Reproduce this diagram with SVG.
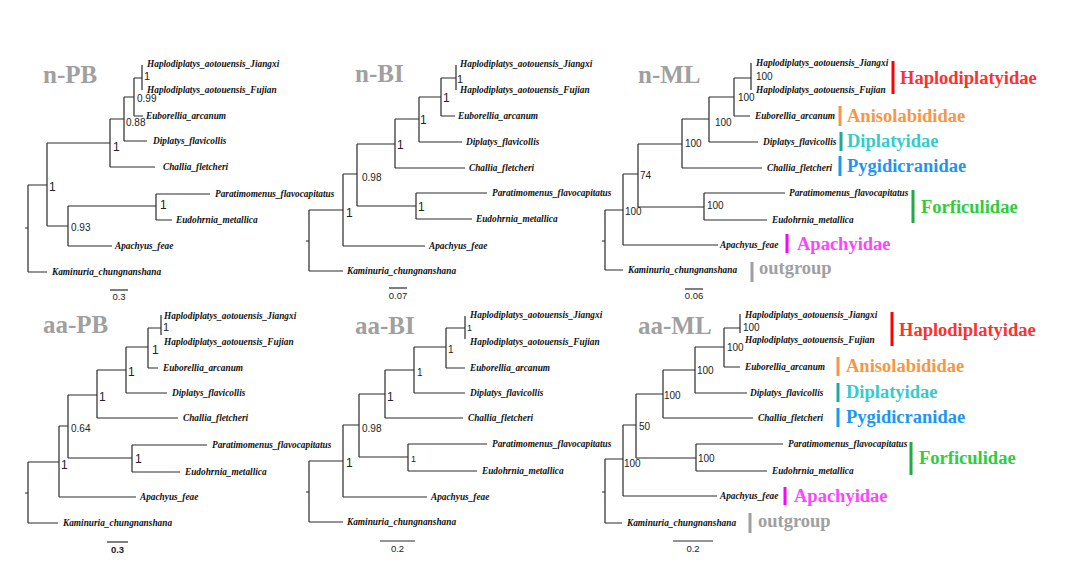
<svg xmlns="http://www.w3.org/2000/svg" width="1080" height="573" viewBox="0 0 1080 573">
<style>
.br{fill:none;stroke:#2a2a2a;stroke-width:1.2}
.tx{font-family:"Liberation Serif",serif;font-weight:bold;font-style:italic;font-size:9.3px;fill:#111}
.nl{font-family:"Liberation Sans",sans-serif;font-size:12px;fill:#222}
.nm{font-family:"Liberation Sans",sans-serif;font-size:11px;fill:#222}
.ns{font-family:"Liberation Sans",sans-serif;font-size:10px;fill:#222}
.nx{font-family:"Liberation Sans",sans-serif;font-size:9px;fill:#222}
.ti{font-family:"Liberation Serif",serif;font-weight:bold;font-size:25px;fill:#a0a0a0}
.sc{font-family:"Liberation Sans",sans-serif;font-size:9.5px;fill:#222;text-anchor:middle}
.fam{font-family:"Liberation Serif","Times New Roman",serif;font-weight:bold;font-size:18.5px}
.bar{stroke:none}
</style>
<rect width="1080" height="573" fill="#fff"/>

<!-- n-PB -->
<g id="tree-n-PB">
<text class="ti" x="43" y="83">n-PB</text>
<g id="n-PB-branches">
<path class="br" d="M25 228H28M28 185V272M28 272H47M28 185H47M47 143V226M47 143H110M110 119V167M110 167H155M110 119H124M124 97V141M124 141H147M124 97H134M134 78V116M134 116H143M134 78H142M142 65V90"/>
<path class="br" d="M47 226H68M68 206V246M68 246H112M68 206H156M156 194V220M156 194H210M156 220H172"/>
</g>
<text class="tx" x="147" y="67">Haplodiplatys_aotouensis_Jiangxi</text>
<text class="tx" x="147" y="93">Haplodiplatys_aotouensis_Fujian</text>
<text class="tx" x="146" y="119">Euborellia_arcanum</text>
<text class="tx" x="153" y="144">Diplatys_flavicollis</text>
<text class="tx" x="163" y="170">Challia_fletcheri</text>
<text class="tx" x="215" y="197">Paratimomenus_flavocapitatus</text>
<text class="tx" x="176" y="223">Eudohrnia_metallica</text>
<text class="tx" x="115" y="249">Apachyus_feae</text>
<text class="tx" x="52" y="275">Kaminuria_chungnanshana</text>
<text class="nm" x="144" y="80">1</text>
<text class="ns" x="137" y="102">0.99</text>
<text class="ns" x="126" y="126">0.88</text>
<text class="nl" x="113" y="151">1</text>
<text class="nl" x="49" y="191">1</text>
<text class="nl" x="160" y="209">1</text>
<text class="ns" x="71" y="231">0.93</text>
<path class="br" d="M110 290H128"/>
<text class="sc" x="119" y="300">0.3</text>
</g>

<!-- n-BI -->
<g id="tree-n-BI">
<text class="ti" x="355" y="82">n-BI</text>
<g id="n-BI-branches">
<path class="br" d="M306 241H309M309 210V271M309 271H343M309 210H343M343 174V246M343 246H425M343 174H357M357 144V206M357 206H416M416 193V219M416 193H487M416 219H472M357 144H395M395 119V168M395 168H465M395 119H419M419 97V142M419 142H462M419 97H441M441 78V116M441 116H455M441 78H456M456 65V90"/>
</g>
<text class="tx" x="460" y="67">Haplodiplatys_aotouensis_Jiangxi</text>
<text class="tx" x="460" y="93">Haplodiplatys_aotouensis_Fujian</text>
<text class="tx" x="458" y="119">Euborellia_arcanum</text>
<text class="tx" x="466" y="145">Diplatys_flavicollis</text>
<text class="tx" x="469" y="171">Challia_fletcheri</text>
<text class="tx" x="492" y="196">Paratimomenus_flavocapitatus</text>
<text class="tx" x="476" y="222">Eudohrnia_metallica</text>
<text class="tx" x="429" y="249">Apachyus_feae</text>
<text class="tx" x="347" y="274">Kaminuria_chungnanshana</text>
<text class="nm" x="457" y="83">1</text>
<text class="nl" x="443" y="102">1</text>
<text class="nl" x="420" y="124">1</text>
<text class="nl" x="397" y="149">1</text>
<text class="ns" x="362" y="181">0.98</text>
<text class="nl" x="418" y="211">1</text>
<text class="nl" x="346" y="217">1</text>
<path class="br" d="M389 288H407"/>
<text class="sc" x="398" y="299">0.07</text>
</g>

<!-- n-ML -->
<g id="tree-n-ML">
<text class="ti" x="638" y="83">n-ML</text>
<g id="n-ML-branches">
<path class="br" d="M602 241H605M605 210V270M605 270H623M605 210H623M623 174V245M623 245H718M623 174H638M638 144V207M638 207H704M704 193V220M704 193H785M704 220H767M638 144H682M682 119V168M682 168H762M682 119H709M709 97V142M709 142H758M709 97H734M734 78V116M734 116H750M734 78H751M751 63V90"/>
</g>
<text class="tx" x="756" y="66">Haplodiplatys_aotouensis_Jiangxi</text>
<text class="tx" x="756" y="93">Haplodiplatys_aotouensis_Fujian</text>
<text class="tx" x="755" y="119">Euborellia_arcanum</text>
<text class="tx" x="763" y="145">Diplatys_flavicollis</text>
<text class="tx" x="767" y="171">Challia_fletcheri</text>
<text class="tx" x="789" y="196">Paratimomenus_flavocapitatus</text>
<text class="tx" x="772" y="223">Eudohrnia_metallica</text>
<text class="tx" x="720" y="248">Apachyus_feae</text>
<text class="tx" x="628" y="273">Kaminuria_chungnanshana</text>
<text class="ns" x="756" y="80">100</text>
<text class="ns" x="738" y="101">100</text>
<text class="ns" x="715" y="126">100</text>
<text class="ns" x="685" y="147">100</text>
<text class="ns" x="640" y="179">74</text>
<text class="ns" x="625" y="215">100</text>
<text class="ns" x="707" y="209">100</text>
<path class="br" d="M685 289H703"/>
<text class="sc" x="694" y="299">0.06</text>
<g id="n-ML-families">
<rect class="bar" x="891.5" y="61" width="3" height="33" fill="#ff0000"/>
<text class="fam" x="900" y="84" fill="#ff3030">Haplodiplatyidae</text>
<rect class="bar" x="838.5" y="106" width="3" height="20" fill="#f79646"/>
<text class="fam" x="847" y="122" fill="#f79646">Anisolabididae</text>
<rect class="bar" x="839.5" y="132" width="3" height="19" fill="#20a8a0"/>
<text class="fam" x="847" y="147" fill="#33cccc">Diplatyidae</text>
<rect class="bar" x="838.5" y="156" width="3" height="20" fill="#1a9be8"/>
<text class="fam" x="847" y="172" fill="#1e96f0">Pygidicranidae</text>
<rect class="bar" x="911.5" y="190" width="3" height="33" fill="#22a844"/>
<text class="fam" x="921" y="213" fill="#2ecc40">Forficulidae</text>
<rect class="bar" x="785.5" y="234" width="3" height="19" fill="#ff00ff"/>
<text class="fam" x="797" y="250" fill="#ff44ff">Apachyidae</text>
<rect class="bar" x="750.5" y="262" width="3" height="20" fill="#a0a0a0"/>
<text class="fam" x="759" y="274" fill="#a0a0a0">outgroup</text>
</g>
</g>

<!-- aa-PB -->
<g id="tree-aa-PB">
<text class="ti" x="43" y="333">aa-PB</text>
<g id="aa-PB-branches">
<path class="br" d="M25 493H28M28 462V523M28 523H58M28 462H59M59 426V497M59 497H136M59 426H68M68 395V458M68 458H132M132 445V472M132 445H207M132 472H180M68 395H97M97 370V418M97 418H178M97 370H126M126 347V393M126 393H167M126 347H148M148 328V368M148 368H158M148 328H161M161 315V335"/>
</g>
<text class="tx" x="164" y="319">Haplodiplatys_aotouensis_Jiangxi</text>
<text class="tx" x="164" y="345">Haplodiplatys_aotouensis_Fujian</text>
<text class="tx" x="163" y="371">Euborellia_arcanum</text>
<text class="tx" x="172" y="396">Diplatys_flavicollis</text>
<text class="tx" x="183" y="421">Challia_fletcheri</text>
<text class="tx" x="212" y="448">Paratimomenus_flavocapitatus</text>
<text class="tx" x="185" y="475">Eudohrnia_metallica</text>
<text class="tx" x="140" y="500">Apachyus_feae</text>
<text class="tx" x="63" y="526">Kaminuria_chungnanshana</text>
<text class="nm" x="163" y="331">1</text>
<text class="nl" x="152" y="354">1</text>
<text class="nl" x="128" y="376">1</text>
<text class="nl" x="99" y="401">1</text>
<text class="ns" x="71" y="432">0.64</text>
<text class="nl" x="135" y="463">1</text>
<text class="nl" x="61" y="469">1</text>
<path class="br" d="M107 542H128"/>
<text class="sc" x="117.5" y="553" font-weight="bold">0.3</text>
</g>

<!-- aa-BI -->
<g id="tree-aa-BI">
<text class="ti" x="355" y="334">aa-BI</text>
<g id="aa-BI-branches">
<path class="br" d="M306 492H309M309 461V522M309 522H343M309 461H343M343 425V497M343 497H427M343 425H359M359 394V457M359 457H408M408 444V471M408 444H487M408 471H477M359 394H385M385 370V418M385 418H463M385 370H414M414 347V393M414 393H465M414 347H446M446 328V368M446 368H465M446 328H465M465 316V339"/>
</g>
<text class="tx" x="470" y="318">Haplodiplatys_aotouensis_Jiangxi</text>
<text class="tx" x="470" y="345">Haplodiplatys_aotouensis_Fujian</text>
<text class="tx" x="470" y="371">Euborellia_arcanum</text>
<text class="tx" x="470" y="396">Diplatys_flavicollis</text>
<text class="tx" x="468" y="421">Challia_fletcheri</text>
<text class="tx" x="492" y="447">Paratimomenus_flavocapitatus</text>
<text class="tx" x="482" y="474">Eudohrnia_metallica</text>
<text class="tx" x="431" y="500">Apachyus_feae</text>
<text class="tx" x="347" y="525">Kaminuria_chungnanshana</text>
<text class="nx" x="467" y="331">1</text>
<text class="ns" x="448" y="353">1</text>
<text class="ns" x="417" y="376">1</text>
<text class="nl" x="387" y="401">1</text>
<text class="ns" x="362" y="432">0.98</text>
<text class="nx" x="411" y="462">1</text>
<text class="nl" x="346" y="467">1</text>
<path class="br" d="M380 541H415"/>
<text class="sc" x="397.5" y="552">0.2</text>
</g>

<!-- aa-ML -->
<g id="tree-aa-ML">
<text class="ti" x="638" y="334">aa-ML</text>
<g id="aa-ML-branches">
<path class="br" d="M602 492H605M605 459V523M605 523H622M605 459H623M623 425V496M623 496H717M623 425H636M636 394V458M636 458H696M696 444V471M696 444H783M696 471H767M636 394H663M663 370V418M663 418H753M663 370H695M695 347V393M695 393H747M695 347H724M724 328V367M724 367H740M724 328H740M740 314V333"/>
</g>
<text class="tx" x="745" y="318">Haplodiplatys_aotouensis_Jiangxi</text>
<text class="tx" x="745" y="343">Haplodiplatys_aotouensis_Fujian</text>
<text class="tx" x="745" y="370">Euborellia_arcanum</text>
<text class="tx" x="750" y="396">Diplatys_flavicollis</text>
<text class="tx" x="758" y="421">Challia_fletcheri</text>
<text class="tx" x="788" y="447">Paratimomenus_flavocapitatus</text>
<text class="tx" x="772" y="474">Eudohrnia_metallica</text>
<text class="tx" x="720" y="499">Apachyus_feae</text>
<text class="tx" x="627" y="526">Kaminuria_chungnanshana</text>
<text class="ns" x="743" y="331">100</text>
<text class="ns" x="727" y="351">100</text>
<text class="ns" x="697" y="374">100</text>
<text class="ns" x="664" y="399">100</text>
<text class="ns" x="639" y="430">50</text>
<text class="ns" x="698" y="462">100</text>
<text class="ns" x="624" y="467">100</text>
<path class="br" d="M673 541H713"/>
<text class="sc" x="693" y="552">0.2</text>
<g id="aa-ML-families">
<rect class="bar" x="890.5" y="312" width="3" height="34" fill="#ff0000"/>
<text class="fam" x="899" y="336" fill="#ff3030">Haplodiplatyidae</text>
<rect class="bar" x="836.5" y="357" width="3" height="19" fill="#f79646"/>
<text class="fam" x="846" y="372" fill="#f79646">Anisolabididae</text>
<rect class="bar" x="836.5" y="383" width="3" height="19" fill="#20a8a0"/>
<text class="fam" x="846" y="398" fill="#33cccc">Diplatyidae</text>
<rect class="bar" x="836.5" y="408" width="3" height="19" fill="#1a9be8"/>
<text class="fam" x="846" y="423" fill="#1e96f0">Pygidicranidae</text>
<rect class="bar" x="909.5" y="442" width="3" height="33" fill="#22a844"/>
<text class="fam" x="919" y="464" fill="#2ecc40">Forficulidae</text>
<rect class="bar" x="783.5" y="487" width="3" height="18" fill="#ff00ff"/>
<text class="fam" x="794" y="502" fill="#ff44ff">Apachyidae</text>
<rect class="bar" x="748.5" y="513" width="3" height="20" fill="#a0a0a0"/>
<text class="fam" x="758" y="527" fill="#a0a0a0">outgroup</text>
</g>
</g>
</svg>
